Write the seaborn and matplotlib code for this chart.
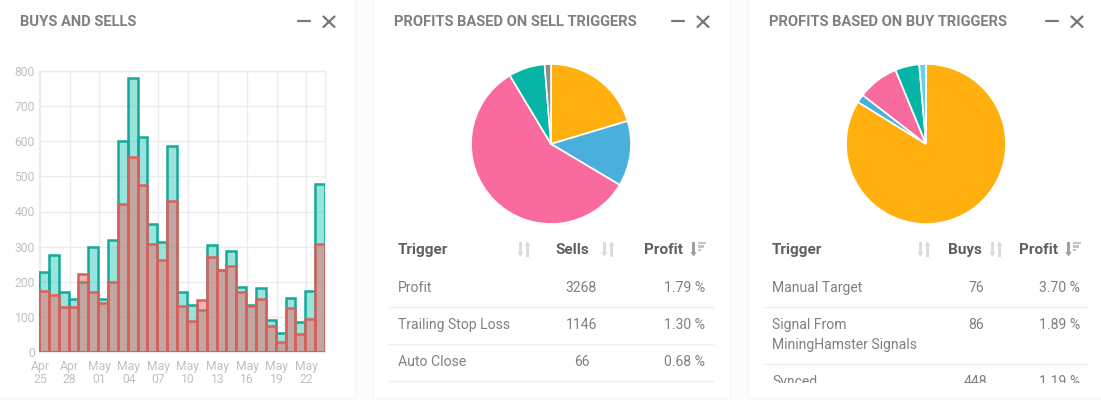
import numpy as np
import pandas as pd
import seaborn as sns
import matplotlib.pyplot as plt
from matplotlib.patches import Rectangle, Polygon

days = ['Apr 25', 'Apr 26', 'Apr 27', 'Apr 28', 'Apr 29', 'Apr 30', 'May 01', 'May 02', 'May 03', 'May 04',
        'May 05', 'May 06', 'May 07', 'May 08', 'May 09', 'May 10', 'May 11', 'May 12', 'May 13', 'May 14',
        'May 15', 'May 16', 'May 17', 'May 18', 'May 19', 'May 20', 'May 21', 'May 22', 'May 23']
buys = [228, 277, 170, 150, 200, 298, 152, 320, 600, 780, 612, 365, 313, 587, 172,
        135, 120, 304, 233, 287, 185, 135, 183, 90, 53, 155, 85, 175, 477]
sells = [175, 162, 128, 128, 222, 172, 140, 198, 422, 556, 476, 308, 262, 430, 130,
         88, 148, 270, 233, 245, 172, 130, 150, 75, 28, 125, 52, 95, 307]
tick_labels = ['Apr\n25', 'Apr\n28', 'May\n01', 'May\n04', 'May\n07', 'May\n10', 'May\n13', 'May\n16', 'May\n19', 'May\n22']

sell_pie = [73.3, 47.5, 208.2, 26.4, 4.6]
sell_colors = ['#ffb00f', '#4aafdc', '#f96a9f', '#06b5a5', '#8c8c8c']
buy_pie = [301.7, 6, 29.9, 17.5, 4.9]
buy_colors = ['#ffb00f', '#4aafdc', '#f96a9f', '#06b5a5', '#63d3e6']

sns.set_theme(style='white')
plt.rcParams['font.family'] = ['Roboto', 'DejaVu Sans']

W, H = 1101, 400
fig = plt.figure(figsize=(W / 100, H / 100), dpi=100, facecolor='#fcfcfc')


def px_axes(x0, y0, x1, y1):
    return fig.add_axes([x0 / W, 1 - y1 / H, (x1 - x0) / W, (y1 - y0) / H])


# fond et textes en pixels
bg = fig.add_axes([0, 0, 1, 1])
bg.set_xlim(0, W)
bg.set_ylim(H, 0)
bg.axis('off')
for x0, x1 in [(-5, 355), (373, 730), (748, 1106)]:
    bg.add_patch(Rectangle((x0, -5), x1 - x0, 403, fc='white', ec='#f5f5f5', lw=1))

titles = [(20, 'BUYS AND SELLS', 304), (394, 'PROFITS BASED ON SELL TRIGGERS', 678), (769, 'PROFITS BASED ON BUY TRIGGERS', 1052)]
for x, t, xm in titles:
    bg.text(x, 22, t, fontsize=10.6, fontweight='bold', color='#808080', va='center')
    bg.plot([xm - 6, xm + 6], [21, 21], color='#777777', lw=1.6)
    bg.plot([xm + 19.5, xm + 30.5], [16.5, 27], color='#777777', lw=1.6)
    bg.plot([xm + 19.5, xm + 30.5], [27, 16.5], color='#777777', lw=1.6)

# barres
df = pd.DataFrame({'day': days, 'buys': buys, 'sells': sells})
ax = px_axes(39, 71, 325, 352)
sns.barplot(data=df, x='day', y='buys', color='#14a999', width=1, saturation=1, ax=ax)
n = len(ax.patches)
sns.barplot(data=df, x='day', y='sells', color='#d9605a', width=1, saturation=1, ax=ax)
for i, p in enumerate(ax.patches):
    if i < n:
        p.set_facecolor((0.0, 0.75, 0.67, 0.4))
        p.set_edgecolor('#14a999')
    else:
        p.set_facecolor((0.93, 0.41, 0.40, 0.5))
        p.set_edgecolor('#d9605a')
    p.set_linewidth(1.8)
    p.set_zorder(3)
ax.set_xlim(-0.5, 28.5)
ax.set_ylim(0, 800)
ax.set_xticks(np.arange(0, 29, 3) - 0.4)
ax.set_xticklabels(tick_labels, linespacing=1.0)
ax.set_yticks(range(0, 801, 100))
ax.set_xlabel('')
ax.set_ylabel('')
ax.grid(True, color='#ececec', lw=1)
ax.set_axisbelow(True)
ax.tick_params(length=0, labelsize=8.7, labelcolor='#c0c0c0')
ax.tick_params(axis='x', pad=6)
ax.tick_params(axis='y', pad=3)
ax.patch.set_alpha(0)
for s in ax.spines.values():
    s.set_color('#ececec')
    s.set_linewidth(1)

# camemberts
ax2 = px_axes(465, 58, 637, 230)
ax2.pie(sell_pie, colors=sell_colors, startangle=90, counterclock=False, radius=0.93,
        wedgeprops={'edgecolor': 'white', 'linewidth': 1.2})
ax2.set_xlim(-1, 1)
ax2.set_ylim(-1, 1)

ax3 = px_axes(840, 58, 1012, 230)
ax3.pie(buy_pie, colors=buy_colors, startangle=90, counterclock=False, radius=0.93,
        wedgeprops={'edgecolor': 'white', 'linewidth': 1.2})
ax3.set_xlim(-1, 1)
ax3.set_ylim(-1, 1)


def arrow(x, y0, y1, color):
    # fleche verticale epaisse de y0 vers y1
    d = 1 if y1 > y0 else -1
    bg.add_patch(Rectangle((x - 1.2, min(y0, y1 - d * 4)), 2.4, abs(y1 - d * 4 - y0), fc=color, ec='none'))
    bg.add_patch(Polygon([(x - 3.2, y1 - d * 4.5), (x + 3.2, y1 - d * 4.5), (x, y1)], fc=color, ec='none'))


def sort_icon(x, y, color='#dcdcdc'):
    arrow(x - 3.6, y - 7.5, y + 7.5, color)
    arrow(x + 3.6, y + 7.5, y - 7.5, color)


def sort_active(x, y):
    arrow(x - 4.5, y - 7.5, y + 7.5, '#a0a0a0')
    for k, w in enumerate([8.5, 6, 3.5]):
        bg.add_patch(Rectangle((x - 0.5, y - 7.5 + k * 3.6), w, 2.6, fc='#c4c4c4', ec='none'))


# table ventes
head = '#5f5f5f'
body = '#808080'
fs_h = 11
fs_b = 10.1
bg.text(398, 250, 'Trigger', fontsize=fs_h, fontweight='bold', color=head, va='center')
sort_icon(524, 249)
bg.text(572, 250, 'Sells', fontsize=fs_h, fontweight='bold', color=head, va='center', ha='center')
sort_icon(608, 249)
bg.text(683, 250, 'Profit', fontsize=fs_h, fontweight='bold', color=head, va='center', ha='right')
sort_active(698, 249)

rows = [('Profit', '3268', '1.79 %', 287), ('Trailing Stop Loss', '1146', '1.30 %', 324), ('Auto Close', '66', '0.68 %', 361)]
for a, b, c, y in rows:
    bg.text(398, y + 1, a, fontsize=fs_b, color=body, va='center')
    bg.text(581.5, y + 1, b, fontsize=fs_b, color=body, va='center', ha='center')
    bg.text(705, y + 1, c, fontsize=fs_b, color=body, va='center', ha='right')
    bg.plot([389, 713], [y + 19.5, y + 19.5], color='#eeeeee', lw=1)

# table achats
bg.text(772, 250, 'Trigger', fontsize=fs_h, fontweight='bold', color=head, va='center')
sort_icon(924, 249)
bg.text(948, 250, 'Buys', fontsize=fs_h, fontweight='bold', color=head, va='center')
sort_icon(996, 249)
bg.text(1058, 250, 'Profit', fontsize=fs_h, fontweight='bold', color=head, va='center', ha='right')
sort_active(1073, 249)

clip = Rectangle((748, 230), 358, 153, transform=bg.transData)
rows2 = [('Manual Target', '76', '3.70 %', 287), ('Signal From\nMiningHamster Signals', '86', '1.89 %', 324), ('Synced', '448', '1.19 %', 381)]
for a, b, c, y in rows2:
    if '\n' in a:
        bg.text(772, y - 6, a, fontsize=fs_b, color=body, va='top', linespacing=1.5)
        texts = []
    else:
        texts = [bg.text(772, y + 1, a, fontsize=fs_b, color=body, va='center')]
    texts.append(bg.text(976, y + 1, b, fontsize=fs_b, color=body, va='center', ha='center'))
    texts.append(bg.text(1080, y + 1, c, fontsize=fs_b, color=body, va='center', ha='right'))
    for t in texts:
        t.set_clip_on(True)
        t.set_clip_path(clip)
bg.plot([764, 1088], [306.5, 306.5], color='#eeeeee', lw=1)
bg.plot([764, 1088], [363.5, 363.5], color='#eeeeee', lw=1)

fig.savefig('out.png', dpi=100)
